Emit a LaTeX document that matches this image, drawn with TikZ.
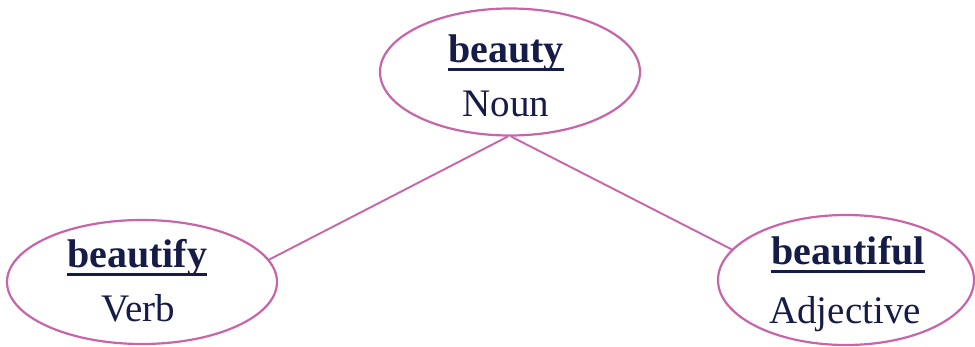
\documentclass[tikz,border=0pt]{standalone}
\usepackage{fontspec}
\setmainfont{Liberation Serif}
\usetikzlibrary{shapes.geometric}
\definecolor{edgepink}{RGB}{200,100,170}
\definecolor{inknavy}{RGB}{22,28,72}
\newcommand{\myul}[1]{\setbox0\hbox{#1}\rlap{\rule[-8pt]{\wd0}{3pt}}\box0}
\tikzset{
  wordbox/.style={ellipse, draw=edgepink, line width=2.2pt, inner sep=0pt},
  headword/.style={anchor=base, inner sep=0pt, text=inknavy, font=\fontsize{40}{44}\selectfont\bfseries},
  partofspeech/.style={anchor=base, inner sep=0pt, text=inknavy, font=\fontsize{39}{44}\selectfont},
  link/.style={draw=edgepink, line width=1.9pt}
}
\begin{document}
\begin{tikzpicture}[x=1pt,y=-1pt]
\useasboundingbox (0,0) rectangle (975,347);
\node[wordbox, minimum width=260pt, minimum height=127pt] (top) at (510,72) {};
\node[wordbox, minimum width=270pt, minimum height=124pt] (left) at (142,282) {};
\node[wordbox, minimum width=256pt, minimum height=130pt] (right) at (846,280) {};
\node[headword] (w1) at (506,63) {\myul{beauty}};
\node[partofspeech] (p1) at (506,117) {Noun};
\node[headword] (w2) at (137,268) {\myul{beautify}};
\node[partofspeech] (p2) at (138,322) {Verb};
\node[headword] (w3) at (848,265) {\myul{beautiful}};
\node[partofspeech] (p3) at (845,324) {Adjective};
\draw[link] (top.-92) -- (left.10);
\draw[link] (top.-89) -- (right.165);
\end{tikzpicture}
\end{document}
